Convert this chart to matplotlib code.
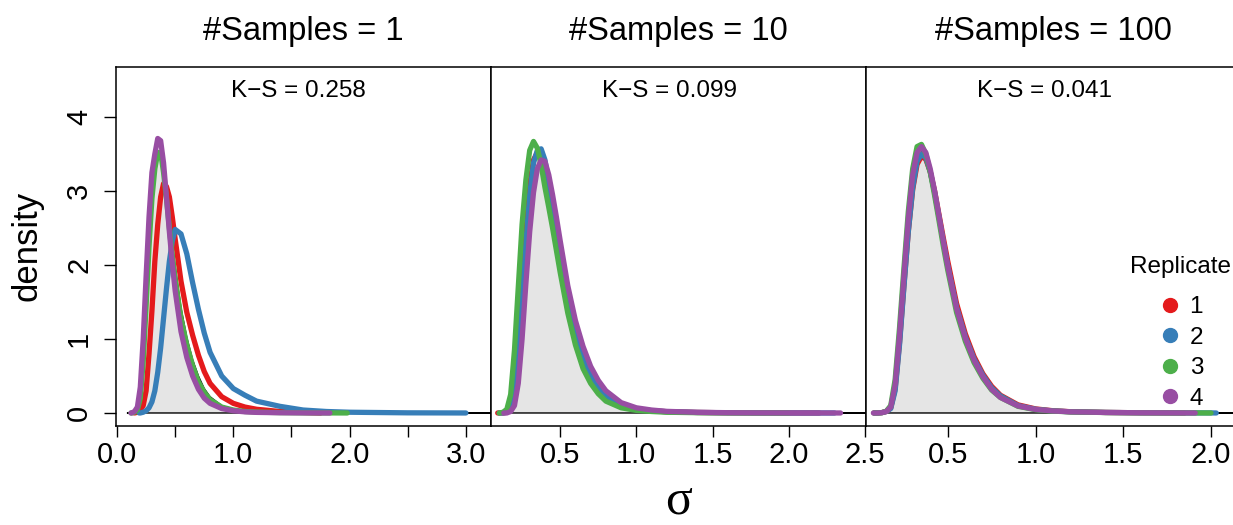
import numpy as np
import matplotlib.pyplot as plt
from matplotlib.lines import Line2D

plt.rcParams['font.family'] = ['Liberation Sans', 'DejaVu Sans']

# common sigma grid the densities were read on
sigma_grid = [0.10, 0.125, 0.15, 0.175, 0.20, 0.225, 0.25, 0.275, 0.30, 0.325,
              0.35, 0.375, 0.40, 0.425, 0.45, 0.475, 0.50, 0.55, 0.60, 0.65,
              0.70, 0.75, 0.80, 0.90, 1.00, 1.10, 1.20, 1.40, 1.60, 1.80,
              2.00, 2.50, 3.00]

# reference (true) density, grey area
ref_density = [0.0, 0.005, 0.02, 0.08, 0.38, 1.02, 1.80, 2.55, 3.12, 3.45,
               3.53, 3.45, 3.25, 2.97, 2.64, 2.30, 1.98, 1.42, 1.02, 0.72,
               0.50, 0.33, 0.22, 0.10, 0.05, 0.028, 0.016, 0.007, 0.003, 0.0015,
               0.001, 0.0, 0.0]
ref_range = (0.085, 3.3)

sample_sizes = [1, 10, 100]
ks_stats = [0.258, 0.099, 0.041]
replicates = ['1', '2', '3', '4']
rep_colors = ['#E41A1C', '#377EB8', '#4DAF4A', '#984EA3']

# #Samples = 1
n1_rep1 = [0, 0, 0, 0.01, 0.04, 0.10, 0.30, 0.80, 1.38, 2.05, 2.55, 2.92, 3.10, 3.06, 2.92, 2.65,
           2.35, 1.78, 1.36, 1.05, 0.78, 0.56, 0.40, 0.22, 0.13, 0.08, 0.05, 0.02, 0.008, 0.003, 0.001, 0, 0]
n1_rep2 = [0, 0, 0, 0, 0, 0.01, 0.03, 0.07, 0.15, 0.30, 0.55, 0.88, 1.28, 1.68, 2.05, 2.32,
           2.48, 2.42, 2.15, 1.76, 1.40, 1.08, 0.82, 0.50, 0.33, 0.24, 0.16, 0.09, 0.04, 0.02, 0.01, 0.002, 0]
n1_rep3 = [0, 0, 0.01, 0.04, 0.20, 0.70, 1.45, 2.25, 2.90, 3.30, 3.52, 3.52, 3.25, 2.90, 2.50, 2.12,
           1.80, 1.28, 0.92, 0.64, 0.42, 0.28, 0.18, 0.08, 0.04, 0.02, 0.012, 0.005, 0.002, 0.001, 0, 0, 0]
n1_rep4 = [0, 0, 0.02, 0.08, 0.35, 1.00, 1.85, 2.65, 3.25, 3.50, 3.71, 3.68, 3.38, 2.92, 2.45, 2.02,
           1.65, 1.10, 0.75, 0.50, 0.32, 0.20, 0.13, 0.06, 0.03, 0.015, 0.008, 0.003, 0.001, 0, 0, 0, 0]
n1_ranges = [(0.15, 1.75), (0.19, 3.0), (0.12, 1.98), (0.12, 1.83)]

# #Samples = 10
n10_rep1 = [0, 0, 0.01, 0.05, 0.30, 0.95, 1.75, 2.50, 3.08, 3.42, 3.52, 3.47, 3.28, 3.00, 2.68, 2.34,
            2.02, 1.45, 1.04, 0.74, 0.52, 0.35, 0.23, 0.11, 0.055, 0.03, 0.017, 0.007, 0.003, 0.001, 0, 0, 0]
n10_rep2 = [0, 0, 0.01, 0.04, 0.22, 0.75, 1.50, 2.30, 2.95, 3.38, 3.55, 3.57, 3.42, 3.12, 2.76, 2.40,
            2.05, 1.46, 1.05, 0.74, 0.52, 0.35, 0.23, 0.11, 0.055, 0.03, 0.017, 0.007, 0.003, 0.001, 0, 0, 0]
n10_rep3 = [0, 0.01, 0.05, 0.25, 0.85, 1.70, 2.55, 3.15, 3.55, 3.67, 3.58, 3.35, 3.05, 2.78, 2.50, 2.20,
            1.90, 1.35, 0.92, 0.60, 0.40, 0.26, 0.16, 0.07, 0.035, 0.02, 0.01, 0.004, 0.002, 0.001, 0, 0, 0]
n10_rep4 = [0, 0, 0, 0.02, 0.10, 0.40, 1.00, 1.75, 2.45, 2.98, 3.30, 3.42, 3.40, 3.22, 2.95, 2.65,
            2.33, 1.72, 1.25, 0.90, 0.63, 0.44, 0.30, 0.14, 0.07, 0.04, 0.022, 0.009, 0.004, 0.002, 0.001, 0, 0]
n10_ranges = [(0.09, 2.2), (0.10, 2.3), (0.10, 2.0), (0.13, 2.34)]

# #Samples = 100
n100_rep1 = [0, 0.005, 0.02, 0.07, 0.33, 0.95, 1.72, 2.45, 3.02, 3.36, 3.47, 3.43, 3.26, 3.00, 2.68, 2.36,
             2.05, 1.48, 1.07, 0.76, 0.53, 0.36, 0.24, 0.11, 0.055, 0.03, 0.017, 0.007, 0.003, 0.001, 0, 0, 0]
n100_rep2 = [0, 0.005, 0.02, 0.06, 0.30, 0.92, 1.70, 2.45, 3.04, 3.40, 3.50, 3.45, 3.26, 2.98, 2.65, 2.31,
             1.99, 1.43, 1.03, 0.73, 0.51, 0.34, 0.23, 0.10, 0.05, 0.028, 0.016, 0.007, 0.003, 0.0015, 0.001, 0, 0]
n100_rep3 = [0, 0.005, 0.025, 0.10, 0.45, 1.15, 1.95, 2.72, 3.30, 3.60, 3.63, 3.50, 3.26, 2.94, 2.60, 2.25,
             1.93, 1.36, 0.97, 0.68, 0.47, 0.31, 0.21, 0.09, 0.045, 0.025, 0.015, 0.006, 0.003, 0.0015, 0.001, 0, 0]
n100_rep4 = [0, 0.005, 0.02, 0.08, 0.38, 1.05, 1.85, 2.62, 3.22, 3.52, 3.60, 3.52, 3.30, 3.00, 2.66, 2.31,
             1.98, 1.41, 1.01, 0.71, 0.49, 0.32, 0.21, 0.095, 0.048, 0.027, 0.016, 0.007, 0.003, 0.0015, 0, 0, 0]
n100_ranges = [(0.08, 1.85), (0.08, 2.03), (0.08, 2.0), (0.076, 1.91)]

panel_reps = [[n1_rep1, n1_rep2, n1_rep3, n1_rep4],
              [n10_rep1, n10_rep2, n10_rep3, n10_rep4],
              [n100_rep1, n100_rep2, n100_rep3, n100_rep4]]
panel_ranges = [n1_ranges, n10_ranges, n100_ranges]


def trace(ys, start, end):
    keep = [(g, y) for g, y in zip(sigma_grid, ys) if start < g < end]
    xs = [start] + [g for g, _ in keep] + [end]
    vals = [0.0] + [y for _, y in keep] + [0.0]
    return np.array(xs), np.array(vals)


# figure layout in pixels (R base graphics look)
W, H = 1233, 525
fig = plt.figure(figsize=(W / 100, H / 100), dpi=100)
left0, pw, bot, top = 116, 375, 426, 67
xlims = [(-0.009, 3.216), (0.046, 2.507), (0.034, 2.171)]
xticks = [np.arange(0, 3.01, 0.5), np.arange(0.5, 2.51, 0.5), np.arange(0.5, 2.01, 0.5)]
ylim = (-0.176, 4.676)

for i in range(3):
    ax = fig.add_axes([(left0 + i * pw) / W, (H - bot) / H, pw / W, (bot - top) / H])
    rx, ry = trace(ref_density, *ref_range)
    ax.fill(rx, ry, facecolor='#E5E5E5', edgecolor='black', lw=1.0, zorder=1)
    for ys, (s, e), c in zip(panel_reps[i], panel_ranges[i], rep_colors):
        x, y = trace(ys, s, e)
        ax.plot(x, y, color=c, lw=3.8, solid_capstyle='round', solid_joinstyle='round', zorder=2)

    ax.set_xlim(*xlims[i])
    ax.set_ylim(*ylim)
    ax.set_xticks(xticks[i])
    if i == 0:
        ax.set_xticklabels([f'{t:.1f}' if abs(t - round(t)) < 1e-9 else '' for t in xticks[i]])
    else:
        ax.set_xticklabels([f'{t:.1f}' for t in xticks[i]])
    ax.tick_params(axis='x', direction='out', length=8, width=1, labelsize=21, pad=3)
    if i == 0:
        ax.set_yticks([0, 1, 2, 3, 4])
        ax.tick_params(axis='y', direction='out', length=8.5, width=1, labelsize=21, pad=8)
        plt.setp(ax.get_yticklabels(), rotation=90, va='center')
    else:
        ax.set_yticks([])
    for sp in ax.spines.values():
        sp.set_linewidth(1.1)

    # K-S statistic centred on the sampled range
    lo = min(r[0] for r in panel_ranges[i])
    hi = max(r[1] for r in panel_ranges[i])
    ax.text((lo + hi) / 2, 0.9156, f'K\u2212S = {ks_stats[i]:.3f}', transform=ax.get_xaxis_transform(),
            ha='center', va='baseline', fontsize=17.5)

    fig.text((left0 + i * pw + pw / 2) / W, 1 - 40 / H, f'#Samples = {sample_sizes[i]}',
             ha='center', va='baseline', fontsize=23.5)

    if i == 2:
        handles = [Line2D([], [], ls='', marker='o', ms=10, color=c) for c in rep_colors]
        ax.legend(handles, replicates, loc='upper left', bbox_to_anchor=(1158 / W, 1 - 296 / H),
                  bbox_transform=fig.transFigure, frameon=False, fontsize=17.5, borderpad=0,
                  handlelength=1.0, handletextpad=0.3, labelspacing=0.35, borderaxespad=0)
        fig.text(1180 / W, 1 - 273 / H, 'Replicate', ha='center', va='baseline', fontsize=17.5)

fig.text(27 / W, 1 - 246 / H, 'density', rotation=90, ha='center', va='center', fontsize=25)
fig.text(679 / W, 1 - 514 / H, '\u03c3', ha='center', va='baseline', fontsize=36,
         family=['Liberation Serif', 'DejaVu Serif'])

fig.savefig('out.png', dpi=100)
